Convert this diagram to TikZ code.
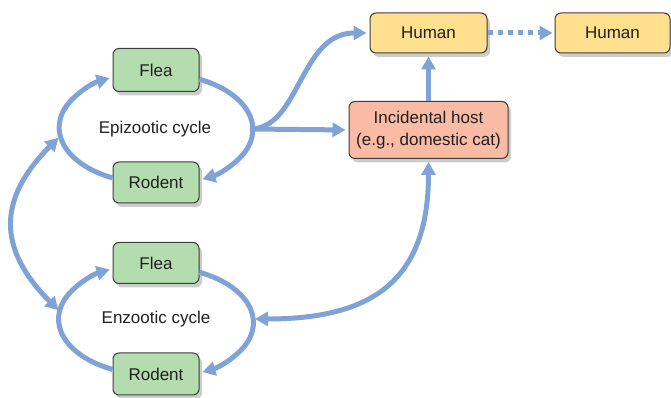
\documentclass[tikz,border=0pt]{standalone}
\usepackage{fontspec}
\setmainfont{Liberation Sans}
\usetikzlibrary{shapes.geometric, arrows.meta, shadows}
\definecolor{fleagreen}{RGB}{179, 221, 174}
\definecolor{humanyellow}{RGB}{255, 224, 143}
\definecolor{hostsalmon}{RGB}{249, 187, 163}
\definecolor{flowblue}{RGB}{127, 163, 215}
\definecolor{edgegray}{RGB}{60, 60, 60}
\definecolor{inkgray}{RGB}{35, 31, 32}

\begin{document}
\begin{tikzpicture}[x=1pt, y=1pt,
  host/.style={draw=edgegray, line width=1pt, rounded corners=6pt, text=inkgray,
    font=\fontsize{17}{22}\selectfont, align=center, inner sep=0pt,
    drop shadow={shadow xshift=3pt, shadow yshift=-4pt, opacity=0.2, fill=black}},
  loop/.style={ellipse, inner sep=0pt, outer sep=0pt, text=inkgray,
    font=\fontsize{17}{22}\selectfont},
  flow/.style={line width=5pt, draw=flowblue, >={Triangle[length=13pt, width=14pt]},
    ->, shorten >=3pt},
  twoway/.style={flow, <->, shorten <=3pt}]
  \useasboundingbox (0,0) rectangle (671,398);

  % Epizootic cycle
  \node[host, fill=fleagreen, minimum width=86pt, minimum height=43pt] (flea1) at (156,328) {Flea};
  \node[host, fill=fleagreen, minimum width=86pt, minimum height=41pt] (rod1) at (156,215.5) {Rodent};
  \node[loop, minimum width=190pt, minimum height=112pt] (epi) at (155,269) {Epizootic cycle};
  \draw[flow] (rod1.174) arc[start angle=244, end angle=116, x radius=95, y radius=56];
  \draw[flow] (flea1.-12) arc[start angle=64, end angle=-64, x radius=95, y radius=56];

  % Enzootic cycle
  \node[host, fill=fleagreen, minimum width=86pt, minimum height=41pt] (flea2) at (156,135) {Flea};
  \node[host, fill=fleagreen, minimum width=86pt, minimum height=42pt] (rod2) at (156,24) {Rodent};
  \node[loop, minimum width=192pt, minimum height=112pt] (enz) at (156,79) {Enzootic cycle};
  \draw[flow] (rod2.174) arc[start angle=244, end angle=116, x radius=96, y radius=56];
  \draw[flow] (flea2.-12) arc[start angle=64, end angle=-64, x radius=96, y radius=56];

  % Hosts
  \node[host, fill=humanyellow, minimum width=117pt, minimum height=40pt] (hum1) at (428.5,365) {Human};
  \node[host, fill=humanyellow, minimum width=115pt, minimum height=40pt] (hum2) at (612.5,365) {Human};
  \node[host, fill=hostsalmon, minimum width=159pt, minimum height=57pt] (inc) at (428.5,268) {Incidental host\\(e.g., domestic cat)};

  % Links
  \draw[twoway] (epi.184) to[out=225, in=135, looseness=1.3] (enz.176);
  \draw[flow] (epi.east) -- (inc.west);
  \draw[flow] (epi.east) .. controls +(50,0) and +(-70,0) .. (hum1.west);
  \draw[flow] (inc.north) -- (hum1.south);
  \draw[flow, dash pattern=on 5pt off 5pt, shorten >=2pt] (hum1.east) -- (hum2.west);
  \draw[twoway] (enz.east) to[out=0, in=-90, looseness=1.3] (inc.south);
\end{tikzpicture}
\end{document}
